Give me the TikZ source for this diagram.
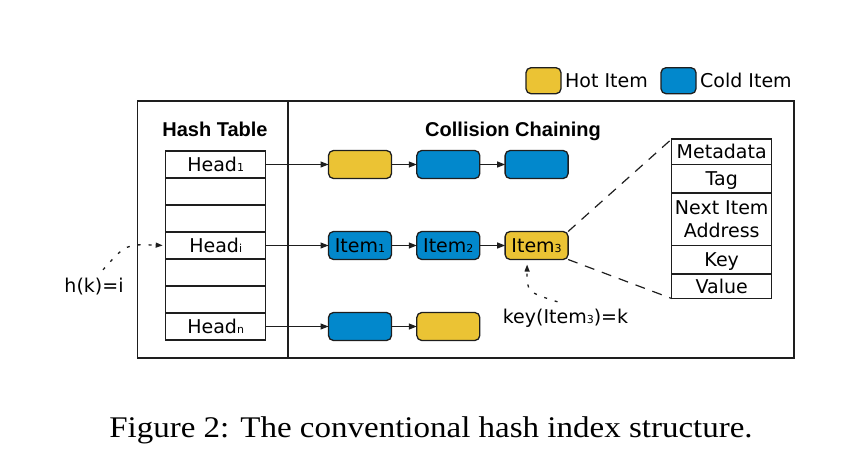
\documentclass[tikz,border=0pt]{standalone}
\usepackage{fontspec}
\usepackage{xcolor}
\usetikzlibrary{arrows.meta, positioning}
\newfontfamily\dgfont{DejaVu Sans}
\newfontfamily\ttlfont{Liberation Sans}
\newfontfamily\capfont[FakeStretch=1.1]{Liberation Serif}
\definecolor{hotc}{HTML}{EBC334}
\definecolor{coldc}{HTML}{0288CC}
\definecolor{edgec}{HTML}{1E1E1E}
\newcommand{\idx}[1]{{\fontsize{11}{11}\selectfont #1}}
\tikzset{
  box/.style  ={rectangle, draw=edgec, line width=1.3pt, outer sep=0pt, inner sep=0pt,
                font=\dgfont\fontsize{19}{23}\selectfont},
  cell/.style ={box, minimum width=100pt, text height=18pt, text depth=4pt},
  hot/.style  ={box, rounded corners=5pt, fill=hotc, minimum width=63pt,
                minimum height=28pt, text height=18pt, text depth=4pt},
  cold/.style ={hot, fill=coldc},
  lbl/.style  ={inner sep=0pt, font=\dgfont\fontsize{19}{23}\selectfont,
                text height=18pt, text depth=4pt},
  ttl/.style  ={inner sep=0pt, font=\ttlfont\bfseries\fontsize{20}{24}\selectfont},
  link/.style ={-{Triangle[length=8pt,width=6pt]}, line width=1.2pt, draw=edgec},
  hint/.style ={-{Triangle[length=7pt,width=5pt]}, line width=1.3pt, draw=edgec,
                dash pattern=on 3pt off 8pt},
  zoomline/.style={line width=1.2pt, draw=edgec, dash pattern=on 10pt off 8pt},
  frame/.style={line width=1.2pt, draw=edgec},
}

\begin{document}
\begin{tikzpicture}[x=1pt, y=-1pt]
  \useasboundingbox (0,0) rectangle (866,474);

  % legend
  \node[hot, minimum width=35pt, minimum height=26pt] (hotkey) at (543.5,80.7) {};
  \node[lbl, right=4pt of hotkey] (hotlbl) {Hot Item};
  \node[cold, minimum width=35pt, minimum height=26pt] (coldkey) at (678.5,80.7) {};
  \node[lbl, right=4pt of coldkey] (coldlbl) {Cold Item};

  % frame
  \draw[frame] (137.5,101) rectangle (794,358);
  \draw[frame] (288,101) -- (288,358);
  \node[ttl, anchor=base] (htitle) at (215,136.7) {Hash Table};
  \node[ttl, anchor=base] (ctitle) at (513,136.7) {Collision Chaining};

  % hash table
  \node[cell, minimum height=27pt, anchor=north west] (head1) at (165.7,151) {Head\idx{1}};
  \node[cell, minimum height=27pt, below=0pt of head1] (row2) {};
  \node[cell, minimum height=27pt, below=0pt of row2] (row3) {};
  \node[cell, minimum height=27pt, below=0pt of row3] (headi) {Head\idx{i}};
  \node[cell, minimum height=27pt, below=0pt of headi] (row5) {};
  \node[cell, minimum height=27pt, below=0pt of row5] (row6) {};
  \node[cell, minimum height=27pt, below=0pt of row6] (headn) {Head\idx{n}};

  % chains
  \node[hot,  right=62.8pt of head1] (a1) {};
  \node[cold, right=25.3pt of a1]    (a2) {};
  \node[cold, right=25.3pt of a2]    (a3) {};
  \node[cold, right=62.8pt of headi] (b1) {Item\idx{1}};
  \node[cold, right=25.3pt of b1]    (b2) {Item\idx{2}};
  \node[hot,  right=25.3pt of b2]    (b3) {Item\idx{3}};
  \node[cold, right=62.8pt of headn] (c1) {};
  \node[hot,  right=25.3pt of c1]    (c2) {};

  \draw[link] (head1) -- (a1);
  \draw[link] (a1) -- (a2);
  \draw[link] (a2) -- (a3);
  \draw[link] (headi) -- (b1);
  \draw[link] (b1) -- (b2);
  \draw[link] (b2) -- (b3);
  \draw[link] (headn) -- (c1);
  \draw[link] (c1) -- (c2);

  % item record
  \node[cell, minimum height=25.5pt, anchor=north west] (meta) at (671.7,139) {Metadata};
  \node[cell, minimum height=28.5pt, below=0pt of meta] (tag) {Tag};
  \node[box, minimum width=100pt, minimum height=52.5pt, align=center,
        below=0pt of tag] (next) {Next Item\\Address};
  \node[cell, minimum height=28.5pt, below=0pt of next] (key) {Key};
  \node[cell, minimum height=24.5pt, below=0pt of key] (value) {Value};

  \draw[zoomline] (b3.north east) -- (meta.north west);
  \draw[zoomline] (b3.south east) -- (value.south west);

  % lookup hints
  \node[lbl, anchor=base] (hk) at (94,292) {h(k)=i};
  \node[lbl, anchor=base] (keylbl) at (565.5,323) {key(Item\idx{3})=k};
  \draw[hint, shorten >=3pt] ([xshift=9pt,yshift=4pt]hk.north) .. controls (126,244) .. (headi.west);
  \draw[hint, shorten >=5pt] ([xshift=-8pt,yshift=3pt]keylbl.north) .. controls (527,292) .. ([xshift=-9.5pt]b3.south);

  % caption
  \node[anchor=base, inner sep=0pt, font=\capfont\fontsize{30}{34}\selectfont] (caption)
    at (431,437) {Figure 2: The conventional hash index structure.};
\end{tikzpicture}
\end{document}
